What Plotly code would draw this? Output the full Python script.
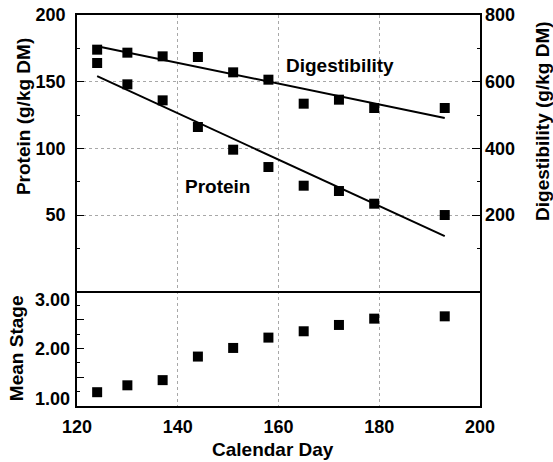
import numpy as np
import plotly.graph_objects as go

# ---- data ----
days = [124, 130, 137, 144, 151, 158, 165, 172, 179, 193]
protein = [164, 148, 136, 116, 99, 86, 72, 68, 58.5, 50]          # g/kg DM
digestibility = [696, 687, 676, 674, 628, 606, 534, 546, 521, 521]  # g/kg DM
mean_stage = [1.24, 1.36, 1.45, 1.86, 2.01, 2.19, 2.30, 2.41, 2.52, 2.56]

x_ticks = [120, 140, 160, 180, 200]
protein_ticks = [50, 100, 150, 200]
digest_ticks = [200, 400, 600, 800]
stage_ticks = [1, 2, 3]

# regression lines (linear fits of the data)
d = np.array(days, dtype=float)
pp = np.polyfit(d, np.array(protein, dtype=float), 1)
pd_ = np.polyfit(d, np.array(digestibility, dtype=float), 1)
line_x = np.array([d.min(), d.max()])

FONT = "Liberation Sans, Arial, Helvetica, sans-serif"
GRID = "#a8a8a8"
marker = dict(symbol="square", size=10, color="black")

fig = go.Figure()
fig.add_trace(go.Scatter(x=days, y=protein, mode="markers", marker=marker,
                         xaxis="x2", yaxis="y2", showlegend=False))
fig.add_trace(go.Scatter(x=line_x, y=np.polyval(pp, line_x), mode="lines",
                         line=dict(color="black", width=2),
                         xaxis="x2", yaxis="y2", showlegend=False))
fig.add_trace(go.Scatter(x=days, y=digestibility, mode="markers", marker=marker,
                         xaxis="x2", yaxis="y3", showlegend=False))
fig.add_trace(go.Scatter(x=line_x, y=np.polyval(pd_, line_x), mode="lines",
                         line=dict(color="black", width=2),
                         xaxis="x2", yaxis="y3", showlegend=False))
fig.add_trace(go.Scatter(x=days, y=mean_stage, mode="markers", marker=marker,
                         xaxis="x", yaxis="y", showlegend=False))

split = 0.294
tickfont = dict(family=FONT, size=18, color="black", weight="bold")

fig.update_layout(
    width=553, height=462,
    margin=dict(l=77, r=73, t=15, b=56, autoexpand=False),
    paper_bgcolor="white", plot_bgcolor="white",
    font=dict(family=FONT, size=18, color="black", weight="bold"),
    xaxis=dict(domain=[0, 1], anchor="y", range=[120, 200],
               tickvals=x_ticks, ticks="", showline=True, mirror=False,
               linecolor="black", linewidth=1.5, automargin=False,
               showgrid=True, gridcolor=GRID, griddash="dot", gridwidth=1,
               tickfont=tickfont, ticklabelstandoff=4, zeroline=False),
    yaxis=dict(domain=[0, split], anchor="x", range=[1, 3],
               tickvals=[1, 1.5, 2, 2.5, 3], ticks="inside", ticklen=7,
               tickcolor="black", tickwidth=1, automargin=False,
               minor=dict(tickvals=[1.25, 1.75, 2.25, 2.75], ticks="inside",
                          ticklen=3, tickcolor="black", showgrid=False),
               showticklabels=False, showgrid=False,
               showline=True, mirror=True, linecolor="black", linewidth=1.5,
               zeroline=False),
    xaxis2=dict(domain=[0, 1], anchor="y2", range=[120, 200],
                tickvals=x_ticks[1:-1], ticks="", showticklabels=False,
                showline=True, mirror=True, linecolor="black", linewidth=1.5,
                showgrid=True, gridcolor=GRID, griddash="dot", gridwidth=1,
                automargin=False, zeroline=False),
    yaxis2=dict(domain=[split, 1], anchor="x2", range=[-7, 200],
                tickvals=protein_ticks, ticks="inside", ticklen=7,
                tickcolor="black", automargin=False,
                minor=dict(tickvals=[25, 75, 125, 175], ticks="inside",
                           ticklen=3, tickcolor="black", showgrid=False),
                showline=True, mirror=True, linecolor="black", linewidth=1.5,
                showgrid=True, gridcolor=GRID, griddash="dot", gridwidth=1,
                tickfont=tickfont, ticklabelstandoff=6, zeroline=False),
    yaxis3=dict(overlaying="y2", anchor="x2", side="right", range=[-28, 800],
                tickvals=digest_ticks, ticks="inside", ticklen=8,
                tickcolor="black", automargin=False,
                minor=dict(tickvals=[100, 300, 500, 700], ticks="inside",
                           ticklen=3, tickcolor="black", showgrid=False),
                showgrid=False, showline=False,
                tickfont=tickfont, ticklabelstandoff=4, zeroline=False),
)

# Mean Stage tick labels (placed as in the reference, inside the panel edges)
stage_label_pos = {1: 1.13, 2: 2.0, 3: 2.84}
for v in stage_ticks:
    fig.add_annotation(text=f"{v:.2f}", xref="paper", yref="y",
                       x=0, y=stage_label_pos[v], xanchor="right",
                       yanchor="middle", xshift=-5, showarrow=False,
                       font=tickfont)

title_font = dict(family=FONT, size=19, color="black", weight="bold")
common = dict(xref="paper", yref="paper", showarrow=False, font=title_font,
              xanchor="center", yanchor="middle")
fig.add_annotation(text="Protein (g/kg DM)", x=0, y=0.739, xshift=-54,
                   textangle=-90, **common)
fig.add_annotation(text="Digestibility (g/kg DM)", x=1, y=0.729, xshift=63,
                   textangle=-90, **common)
fig.add_annotation(text="Mean Stage", x=0, y=0.148, xshift=-61,
                   textangle=-90, **common)
fig.add_annotation(text="Calendar Day", x=0.486, y=-0.112, **common)

# in-plot series labels
fig.add_annotation(text="Digestibility", xref="x2", yref="y2",
                   x=172.3, y=162, showarrow=False, font=title_font,
                   xanchor="center", yanchor="middle")
fig.add_annotation(text="Protein", xref="x2", yref="y2",
                   x=147.9, y=71.3, showarrow=False, font=title_font,
                   xanchor="center", yanchor="middle")

fig.write_html("out.html", config={"displayModeBar": False},
               post_script="document.body.style.margin='0';")
